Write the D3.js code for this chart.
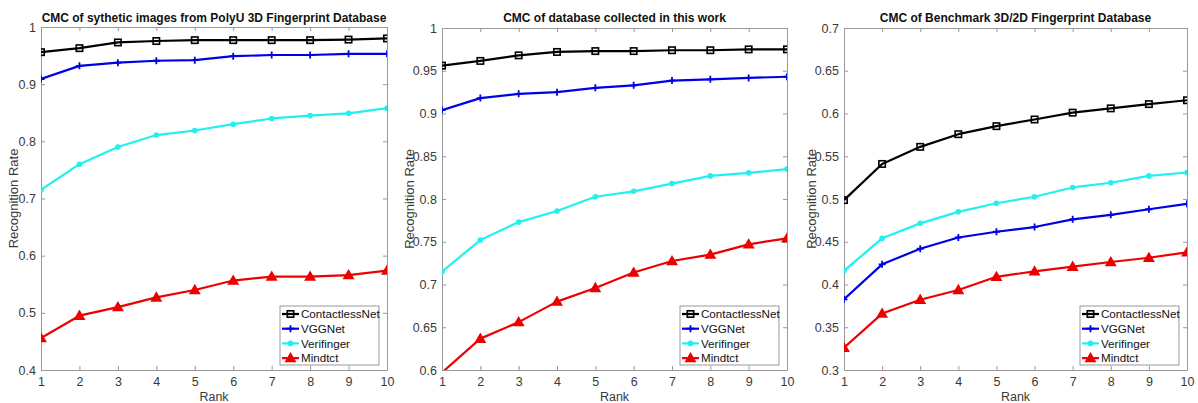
<!DOCTYPE html>
<html><head><meta charset="utf-8">
<script src="https://cdn.jsdelivr.net/npm/d3@7"></script>
<style>
body{margin:0;background:#fff;}
svg{display:block;font-family:"Liberation Sans",Arial,sans-serif;}
</style></head>
<body>
<script>
const ranks = [1,2,3,4,5,6,7,8,9,10];
const seriesNames = ["ContactlessNet","VGGNet","Verifinger","Mindtct"];

const titles = [
  "CMC of sythetic images from PolyU 3D Fingerprint Database",
  "CMC of database collected in this work",
  "CMC of Benchmark 3D/2D Fingerprint Database"
];

// Panel 1 values
const p1Contactless = [0.956,0.963,0.973,0.9755,0.977,0.977,0.977,0.977,0.978,0.980];
const p1VGG         = [0.909,0.932,0.9376,0.941,0.942,0.949,0.951,0.951,0.953,0.953];
const p1Verifinger  = [0.715,0.760,0.790,0.811,0.819,0.830,0.840,0.845,0.849,0.858];
const p1Mindtct     = [0.456,0.495,0.510,0.527,0.540,0.5565,0.5635,0.5635,0.566,0.574];

// Panel 2 values
const p2Contactless = [0.956,0.9615,0.968,0.972,0.973,0.973,0.974,0.974,0.975,0.975];
const p2VGG         = [0.904,0.918,0.923,0.925,0.930,0.933,0.9385,0.940,0.9416,0.943];
const p2Verifinger  = [0.715,0.752,0.773,0.786,0.8026,0.809,0.818,0.827,0.8306,0.835];
const p2Mindtct     = [0.597,0.6367,0.656,0.680,0.696,0.714,0.7275,0.735,0.747,0.754];

// Panel 3 values
const p3Contactless = [0.4987,0.541,0.561,0.5758,0.5852,0.593,0.601,0.606,0.611,0.6155];
const p3VGG         = [0.3827,0.4236,0.4418,0.455,0.4617,0.4672,0.4762,0.4815,0.488,0.4944];
const p3Verifinger  = [0.416,0.454,0.4715,0.485,0.495,0.5026,0.5135,0.519,0.527,0.531];
const p3Mindtct     = [0.326,0.366,0.3822,0.3936,0.409,0.4154,0.4208,0.4263,0.4313,0.4376];

const p1Ticks = [0.4,0.5,0.6,0.7,0.8,0.9,1];
const p2Ticks = [0.6,0.65,0.7,0.75,0.8,0.85,0.9,0.95,1];
const p3Ticks = [0.3,0.35,0.4,0.45,0.5,0.55,0.6,0.65,0.7];
const p1Domain = [0.4,1];
const p2Domain = [0.6,1];
const p3Domain = [0.3,0.7];

const xLabel = "Rank";
const yLabel = "Recognition Rate";

const panels = [
  {title:titles[0], domain:p1Domain, ticks:p1Ticks, data:[p1Contactless,p1VGG,p1Verifinger,p1Mindtct],
   left:41, right:387, top:27, bottom:370, ylx:13},
  {title:titles[1], domain:p2Domain, ticks:p2Ticks, data:[p2Contactless,p2VGG,p2Verifinger,p2Mindtct],
   left:442, right:787, top:28, bottom:370, ylx:409},
  {title:titles[2], domain:p3Domain, ticks:p3Ticks, data:[p3Contactless,p3VGG,p3Verifinger,p3Mindtct],
   left:844, right:1187, top:28, bottom:370, ylx:811}
];

const styles = [
  {color:"#000000", marker:"square"},
  {color:"#0000e6", marker:"plus"},
  {color:"#22f0f0", marker:"dot"},
  {color:"#ee0000", marker:"triangle"}
];

const W = 1198, H = 403;
const svg = d3.select("body").append("svg").attr("width",W).attr("height",H);
const axisColor = "#999999";
const textColor = "#3a3a3a";

function drawMarker(g, type, x, y, color){
  if(type==="square"){
    g.append("rect").attr("x",x-3.2).attr("y",y-3.2).attr("width",6.4).attr("height",6.4)
      .attr("fill","none").attr("stroke",color).attr("stroke-width",1.6);
  } else if(type==="plus"){
    g.append("path").attr("d",`M${x-3.5},${y}H${x+3.5}M${x},${y-3.5}V${y+3.5}`)
      .attr("stroke",color).attr("stroke-width",1.8);
  } else if(type==="dot"){
    g.append("circle").attr("cx",x).attr("cy",y).attr("r",2.8).attr("fill",color);
  } else if(type==="triangle"){
    g.append("path").attr("d",d3.symbol().type(d3.symbolTriangle).size(62)())
      .attr("transform",`translate(${x},${y+0.8})`).attr("fill",color);
  }
}

panels.forEach((p,pi)=>{
  const x = d3.scaleLinear().domain([1,10]).range([p.left,p.right]);
  const y = d3.scaleLinear().domain(p.domain).range([p.bottom,p.top]);
  const g = svg.append("g");

  // title
  g.append("text").attr("x",(p.left+p.right)/2).attr("y",22).attr("text-anchor","middle")
    .attr("font-weight","bold").attr("font-size","12px").attr("fill","#111").text(p.title);

  // axes
  const fmt = d => d===1 ? "1" : String(d);
  const ax = [
    d3.axisBottom(x).tickValues(ranks).tickSize(-4).tickPadding(7),
    d3.axisTop(x).tickValues(ranks).tickSize(-4).tickFormat(""),
    d3.axisLeft(y).tickValues(p.ticks).tickSize(-4).tickPadding(5).tickFormat(fmt),
    d3.axisRight(y).tickValues(p.ticks).tickSize(-4).tickFormat("")
  ];
  const pos = [`translate(0,${p.bottom})`,`translate(0,${p.top})`,`translate(${p.left},0)`,`translate(${p.right},0)`];
  ax.forEach((a,i)=>{
    const ag = g.append("g").attr("transform",pos[i]).call(a);
    ag.select(".domain").attr("stroke",axisColor).attr("stroke-width",1);
    ag.selectAll(".tick line").attr("stroke",axisColor);
    ag.selectAll("text").attr("font-size","12.5px").attr("fill",textColor)
      .attr("font-family","Liberation Sans, Arial, sans-serif");
  });

  // labels
  g.append("text").attr("x",(p.left+p.right)/2).attr("y",401).attr("text-anchor","middle")
    .attr("font-size","12.5px").attr("fill",textColor).text(xLabel);
  g.append("text").attr("transform",`translate(${p.ylx},${(p.top+p.bottom)/2}) rotate(-90)`)
    .attr("text-anchor","middle").attr("dy","0.35em")
    .attr("font-size","13px").attr("fill",textColor).text(yLabel);

  // clip
  const cid = "clip"+pi;
  svg.append("clipPath").attr("id",cid).append("rect")
    .attr("x",p.left).attr("y",p.top).attr("width",p.right-p.left).attr("height",p.bottom-p.top);
  const plot = g.append("g").attr("clip-path",`url(#${cid})`);

  const line = d3.line().x((d,i)=>x(ranks[i])).y(d=>y(d));
  p.data.forEach((vals,si)=>{
    const st = styles[si];
    plot.append("path").datum(vals).attr("d",line).attr("fill","none")
      .attr("stroke",st.color).attr("stroke-width",2.2).attr("stroke-linejoin","round");
    vals.forEach((v,i)=>{
      if(v>=p.domain[0]) drawMarker(plot, st.marker, x(ranks[i]), y(v), st.color);
    });
  });

  // legend
  const lw = 99, lh = 59;
  const lx = p.right - 8 - lw, ly = p.bottom - 5 - lh;
  const lg = g.append("g");
  lg.append("rect").attr("x",lx).attr("y",ly).attr("width",lw).attr("height",lh)
    .attr("fill","#fff").attr("stroke",axisColor).attr("stroke-width",1);
  seriesNames.forEach((n,si)=>{
    const st = styles[si];
    const yy = ly + 8 + si*14.7;
    lg.append("line").attr("x1",lx+2).attr("x2",lx+19).attr("y1",yy).attr("y2",yy)
      .attr("stroke",st.color).attr("stroke-width",2.2);
    drawMarker(lg, st.marker, lx+10.5, yy, st.color);
    lg.append("text").attr("x",lx+21).attr("y",yy).attr("dy","0.36em")
      .attr("font-size","11.6px").attr("fill","#111").text(n);
  });
});
</script>
</body></html>
